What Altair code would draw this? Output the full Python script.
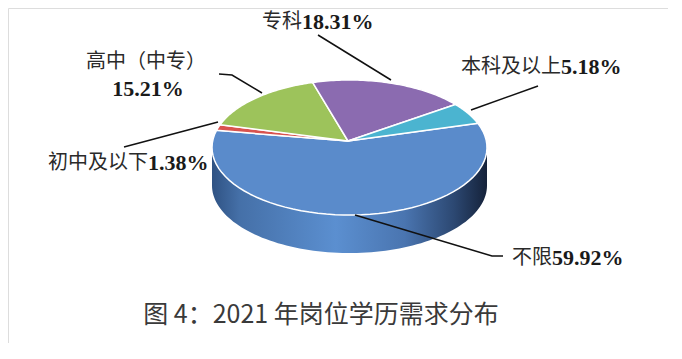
import altair as alt
import numpy as np
import pandas as pd

# ---- data ----
categories = ["不限", "初中及以下", "高中（中专）", "专科", "本科及以上"]
values = [59.92, 1.38, 15.21, 18.31, 5.18]
top_colors = ["#5a8bcb", "#d9534f", "#9dc35b", "#8b6bb0", "#4bb4d0"]
number_labels = ["59.92%", "1.38%", "15.21%", "18.31%", "5.18%"]
title_text = "图 4：2021 年岗位学历需求分布"

# ---- layout (page pixel coordinates) ----
W, H = 660, 335
CX, CY, RX, RY = 349.5, 147.5, 137.5, 67.5
APEX = (348.0, 141.0)
DEPTH = 38
START_DEG = -21.0

# pie geometry built from the values
total = sum(values)
bounds = START_DEG + 360.0 * np.concatenate([[0], np.cumsum(values)]) / total
rows = []
for k, cat in enumerate(categories):
    ts = np.radians(np.linspace(bounds[k], bounds[k + 1], 60))
    pts = [APEX] + [(CX + RX * np.cos(t), CY + RY * np.sin(t)) for t in ts] + [APEX]
    for i, (x, y) in enumerate(pts):
        rows.append({"id": cat, "i": i, "x": x, "y": y})
slices = pd.DataFrame(rows)

# visible side of the largest slice (front half of the ellipse)
lo = max(0.0, bounds[0])
hi = min(180.0, bounds[1])
ts = np.radians(np.linspace(lo, hi, 90))
side_pts = [(CX + RX * np.cos(t), CY + RY * np.sin(t)) for t in ts]
side_pts += [(CX + RX * np.cos(t), CY + RY * np.sin(t) + DEPTH) for t in ts[::-1]]
side_pts += [side_pts[0]]
side = pd.DataFrame([{"i": i, "x": x, "y": y} for i, (x, y) in enumerate(side_pts)])

xs = alt.Scale(domain=[8, 8 + W])
ys = alt.Scale(domain=[8 + H, 8])
X = alt.X("x:Q", scale=xs, axis=None)
Y = alt.Y("y:Q", scale=ys, axis=None)

side_grad = alt.Gradient(
    gradient="linear",
    x1=0, x2=1, y1=0, y2=0,
    stops=[
        alt.GradientStop(offset=0.0, color="#2f5283"),
        alt.GradientStop(offset=0.1, color="#4570a8"),
        alt.GradientStop(offset=0.45, color="#5b8fd0"),
        alt.GradientStop(offset=0.7, color="#4a75b0"),
        alt.GradientStop(offset=0.88, color="#2c4872"),
        alt.GradientStop(offset=1.0, color="#15223a"),
    ],
)

layers = [
    alt.Chart(side).mark_line(fill=side_grad, strokeWidth=0, strokeOpacity=0).encode(
        x=X, y=Y, order="i:Q"
    )
]
for cat, col in zip(categories, top_colors):
    layers.append(
        alt.Chart(slices).transform_filter(alt.datum.id == cat)
        .mark_line(fill=col, stroke="white", strokeWidth=1.5, strokeJoin="round")
        .encode(x=X, y=Y, order="i:Q")
    )

# leader lines
leader_id = ["专科", "专科", "本科", "本科", "高中", "高中", "高中", "初中", "初中", "不限", "不限", "不限"]
leader_x = [318, 391, 471, 538, 219, 232, 262, 124, 218, 355, 492, 503]
leader_y = [35, 80, 110, 86, 74, 75, 93, 147, 122, 215, 256, 256]
leaders = pd.DataFrame({"id": leader_id, "x": leader_x, "y": leader_y,
                        "i": list(range(len(leader_x)))})
layers.append(
    alt.Chart(leaders).mark_line(color="#111111", strokeWidth=1.5).encode(
        x=X, y=Y, detail="id:N", order="i:Q"
    )
)

# labels: CJK part (right aligned) + bold number part (left aligned)
cjk_text = ["不限", "初中及以下", "专科", "本科及以上"]
cjk_x = [552, 148, 302, 561]
cjk_y = [258, 163, 22, 67]
num_text = ["59.92%", "1.38%", "18.31%", "5.18%"]
cjk_df = pd.DataFrame({"t": cjk_text, "x": cjk_x, "y": cjk_y})
num_df = pd.DataFrame({"t": num_text, "x": cjk_x, "y": cjk_y})
layers.append(
    alt.Chart(cjk_df).mark_text(align="right", baseline="middle", font="Noto Sans CJK SC",
                                fontSize=20, color="#2a2a2a").encode(x=X, y=Y, text="t:N")
)
layers.append(
    alt.Chart(num_df).mark_text(align="left", baseline="middle", font="Liberation Serif",
                                fontWeight="bold", fontSize=22, color="#1a1a1a").encode(x=X, y=Y, text="t:N")
)
gz_df = pd.DataFrame({"t": ["高中（中专）"], "x": [146], "y": [62]})
gz_num = pd.DataFrame({"t": ["15.21%"], "x": [148], "y": [89]})
layers.append(
    alt.Chart(gz_df).mark_text(align="center", baseline="middle", font="Noto Sans CJK SC",
                               fontSize=20, color="#2a2a2a").encode(x=X, y=Y, text="t:N")
)
layers.append(
    alt.Chart(gz_num).mark_text(align="center", baseline="middle", font="Liberation Serif",
                                fontWeight="bold", fontSize=22, color="#1a1a1a").encode(x=X, y=Y, text="t:N")
)
title_df = pd.DataFrame({"t": [title_text], "x": [321], "y": [315]})
layers.append(
    alt.Chart(title_df).mark_text(align="center", baseline="middle", font="Noto Sans CJK SC",
                                  fontSize=25, color="#3a3a3a").encode(x=X, y=Y, text="t:N")
)

chart = alt.layer(*layers).properties(
    width=W, height=H, padding=0, autosize=alt.AutoSizeParams(type="none")
).configure_view(stroke=None).configure(background="white")

chart.save("out.html", embed_options={"renderer": "svg", "actions": False})
